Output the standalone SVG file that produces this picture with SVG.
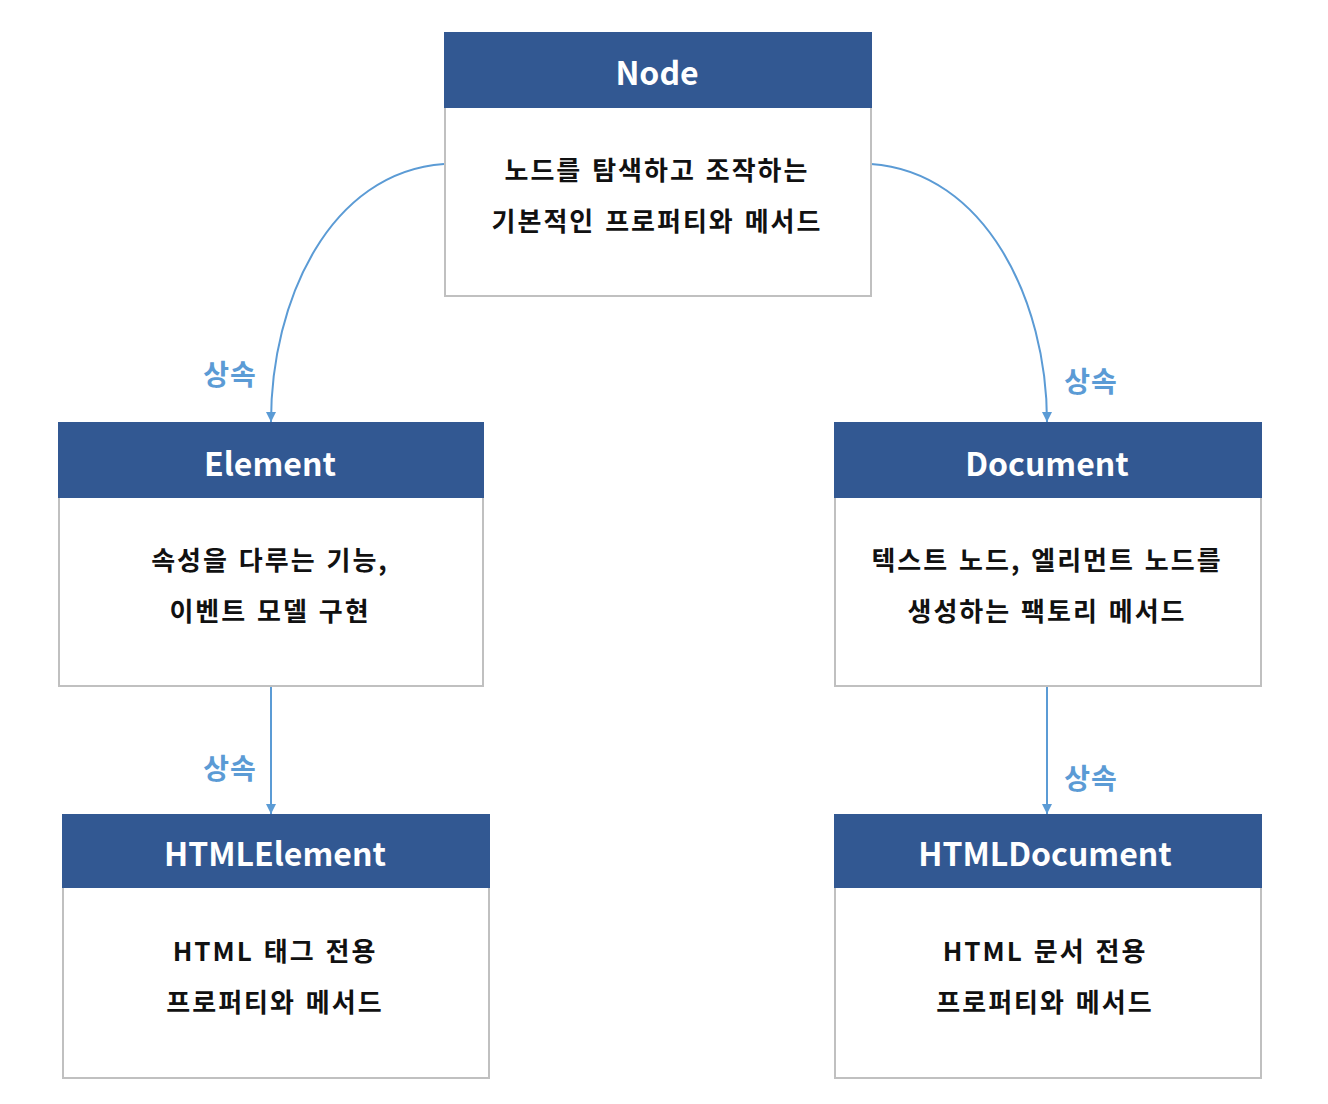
<svg xmlns="http://www.w3.org/2000/svg" width="1328" height="1104" viewBox="0 0 1328 1104">
<defs>
<marker id="arr" viewBox="0 0 10 10" refX="10" refY="5" markerWidth="10" markerHeight="10" markerUnits="userSpaceOnUse" orient="auto">
<path d="M0,0 L10,5 L0,10 Z" fill="#5b9bd5"/>
</marker>
<style>
.body{fill:#ffffff;stroke:#c0c0c0;stroke-width:2}
.head{fill:#325892}
.ht{font-family:"Noto Sans CJK KR","Noto Sans",sans-serif;font-weight:bold;font-size:32px;fill:#ffffff;text-anchor:middle}
.bt{font-family:"Noto Sans CJK KR","Noto Sans",sans-serif;font-weight:bold;font-size:26px;letter-spacing:2px;word-spacing:2px;fill:#111111;text-anchor:middle}
.lbl{font-family:"Noto Sans CJK KR","Noto Sans",sans-serif;font-weight:bold;font-size:28px;letter-spacing:1px;fill:#5b9bd5;text-anchor:middle}
.con{fill:none;stroke:#5b9bd5;stroke-width:2;marker-end:url(#arr)}
</style>
</defs>
<rect width="1328" height="1104" fill="#ffffff"/>
<g id="connectors">
<path class="con" d="M444,164 C330,172 271,300 271,422"/>
<path class="con" d="M871,164 C985,172 1047,300 1047,422"/>
<path class="con" d="M271,687 L271,814"/>
<path class="con" d="M1047,687 L1047,814"/>
<text class="lbl" x="230" y="385">상속</text>
<text class="lbl" x="1091" y="392">상속</text>
<text class="lbl" x="230" y="779">상속</text>
<text class="lbl" x="1091" y="789">상속</text>
</g>
<g id="node-node">
<rect class="body" x="445" y="33" width="426" height="263"/>
<rect class="head" x="444" y="32" width="428" height="76"/>
<text class="ht" x="657" y="85">Node</text>
<text class="bt" x="657" y="180">노드를 탐색하고 조작하는</text>
<text class="bt" x="657" y="231">기본적인 프로퍼티와 메서드</text>
</g>
<g id="node-element">
<rect class="body" x="59" y="423" width="424" height="263"/>
<rect class="head" x="58" y="422" width="426" height="76"/>
<text class="ht" x="270" y="476">Element</text>
<text class="bt" x="270" y="570">속성을 다루는 기능,</text>
<text class="bt" x="270" y="621">이벤트 모델 구현</text>
</g>
<g id="node-document">
<rect class="body" x="835" y="423" width="426" height="263"/>
<rect class="head" x="834" y="422" width="428" height="76"/>
<text class="ht" x="1047" y="476">Document</text>
<text class="bt" x="1047" y="570">텍스트 노드, 엘리먼트 노드를</text>
<text class="bt" x="1047" y="621">생성하는 팩토리 메서드</text>
</g>
<g id="node-htmlelement">
<rect class="body" x="63" y="815" width="426" height="263"/>
<rect class="head" x="62" y="814" width="428" height="74"/>
<text class="ht" x="275" y="866">HTMLElement</text>
<text class="bt" x="275" y="961">HTML 태그 전용</text>
<text class="bt" x="275" y="1012">프로퍼티와 메서드</text>
</g>
<g id="node-htmldocument">
<rect class="body" x="835" y="815" width="426" height="263"/>
<rect class="head" x="834" y="814" width="428" height="74"/>
<text class="ht" x="1045" y="866">HTMLDocument</text>
<text class="bt" x="1045" y="961">HTML 문서 전용</text>
<text class="bt" x="1045" y="1012">프로퍼티와 메서드</text>
</g>
</svg>
